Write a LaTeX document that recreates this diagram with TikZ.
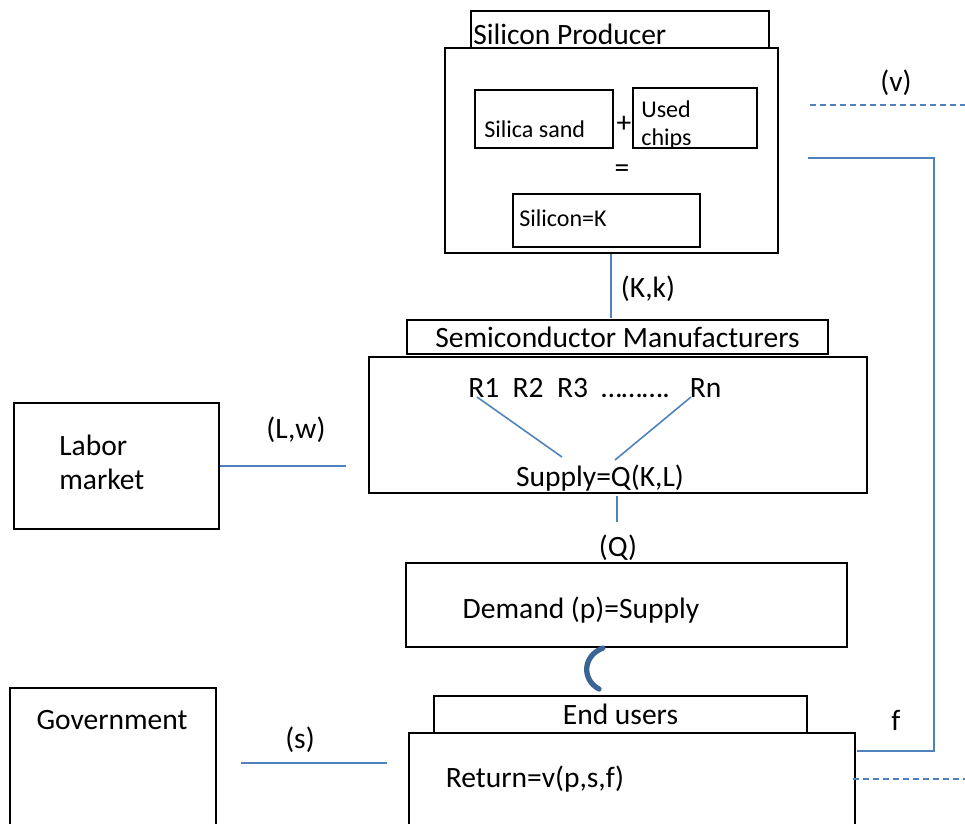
\documentclass[tikz,border=0pt]{standalone}
\usepackage{fontspec}
\setmainfont{Carlito}
\definecolor{linkblue}{HTML}{4F81BD}
\definecolor{arcblue}{HTML}{3A6396}
\newlength\px
\setlength\px{0.02cm}

\tikzset{
  box/.style={draw, line width=1.4pt, inner sep=0pt},
  link/.style={draw=linkblue, line width=0.9pt},
  dashlink/.style={link, dash pattern=on 3.5pt off 2.2pt},
  big/.style={font=\fontsize{16.8}{19.3}\selectfont},
  small/.style={font=\fontsize{13.7}{15.9}\selectfont}
}

\begin{document}
\begin{tikzpicture}[x=0.02cm, y=-0.02cm]
    \useasboundingbox (0,0) rectangle (965,823);
    \clip (0,0) rectangle (965,823);

    % silicon producer
    \node[box, minimum width=298\px, minimum height=37\px] (sptitle) at (620,29.5) {};
    \node[box, minimum width=333\px, minimum height=205\px] (spmain) at (611.5,150.5) {};
    \node[big, anchor=west, inner sep=0pt] (sptext) at (473,34) {Silicon Producer};
    \node[box, minimum width=138\px, minimum height=58\px] (sand) at (544,119) {};
    \node[box, minimum width=124\px, minimum height=60\px] (used) at (695,118) {};
    \node[box, minimum width=187\px, minimum height=53\px] (silicon) at (606.5,220.5) {};
    \node[small, anchor=west, inner sep=0pt] (sandtext) at (484,129) {Silica sand};
    \node[big, inner sep=0pt] (plus) at (624,124) {+};
    \node[small, anchor=west, align=left, inner sep=0pt] (usedtext) at (641,125) {Used\\chips};
    \node[big, inner sep=0pt] (equal) at (622,171) {=};
    \node[small, anchor=west, inner sep=0pt] (silicontext) at (519,218) {Silicon=K};

    % semiconductor manufacturers
    \node[box, big, minimum width=421\px, minimum height=34\px] (smtitle) at (617.5,337) {Semiconductor Manufacturers};
    \node[box, minimum width=498\px, minimum height=136\px] (smmain) at (618,425) {};
    \node[big, anchor=west, inner sep=0pt] (rlist) at (468,388) {R1\ \ R2\ \ R3\ \ ……….\ \ \ Rn};
    \node[big, inner sep=0pt] (supply) at (600,478) {Supply=Q(K,L)};

    % demand and end users
    \node[box, minimum width=441\px, minimum height=84\px] (demand) at (626.5,605) {};
    \node[big, inner sep=0pt] (demandtext) at (581,610) {Demand (p)=Supply};
    \node[box, big, minimum width=373\px, minimum height=37\px] (eutitle) at (620.5,714.5) {End users};
    \node[box, minimum width=446\px, minimum height=107\px] (eumain) at (632,786.5) {};
    \node[big, inner sep=0pt] (returntext) at (535,779) {Return=v(p,s,f)};

    % labor market and government
    \node[box, minimum width=205\px, minimum height=126\px] (labor) at (116.5,466) {};
    \node[big, anchor=west, align=left, inner sep=0pt] (labortext) at (59,462) {Labor\\market};
    \node[box, minimum width=206\px, minimum height=152\px] (gov) at (113,764) {};
    \node[big, inner sep=0pt] (govtext) at (112,720) {Government};

    % labels
    \node[big, inner sep=0pt] (kk) at (648,289) {(K,k)};
    \node[big, inner sep=0pt] (lw) at (296,430) {(L,w)};
    \node[big, inner sep=0pt] (q) at (618,548) {(Q)};
    \node[big, inner sep=0pt] (s) at (300,740) {(s)};
    \node[big, inner sep=0pt] (v) at (896,83) {(v)};
    \node[big, inner sep=0pt] (f) at (896,720) {f};

    % connector ends
    \coordinate (kkb) at (611,318);
    \coordinate (lwe) at (346,466);
    \coordinate (r1) at (477,397);
    \coordinate (rn) at (691,397);
    \coordinate (r1e) at (562,457);
    \coordinate (rne) at (615,460);
    \coordinate (qa) at (617,496);
    \coordinate (qb) at (617,522);
    \coordinate (sa) at (241,763);
    \coordinate (sb) at (387,763);
    \coordinate (va) at (810,105);
    \coordinate (vb) at (965,105);
    \coordinate (fa) at (808,158);
    \coordinate (fc) at (934,158);
    \coordinate (fd) at (934,751);
    \coordinate (fb) at (857,751);
    \coordinate (ra) at (853,779);
    \coordinate (rb) at (965,779);
    \coordinate (arctop) at (603,648);
    \coordinate (arcbot) at (599,689);

    \draw[link] (spmain.south -| kkb) -- (kkb);
    \draw[link] (labor.east) -- (lwe);
    \draw[link] (r1) -- (r1e);
    \draw[link] (rn) -- (rne);
    \draw[link] (qa) -- (qb);
    \draw[link] (sa) -- (sb);
    \draw[dashlink] (va) -- (vb);
    \draw[link] (fa) -- (fc) -- (fd) -- (fb);
    \draw[dashlink] (ra) -- (rb);

    \draw[arcblue, line width=3pt, line cap=round] (arctop) .. controls (582,656) and (582,680) .. (arcbot);
\end{tikzpicture}
\end{document}
